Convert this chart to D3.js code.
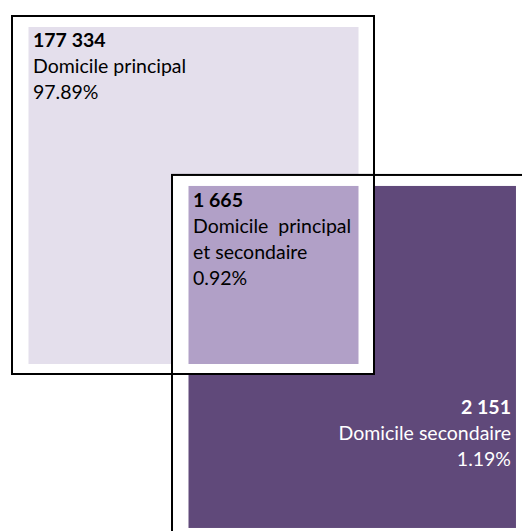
<!DOCTYPE html>
<html>
<head>
<meta charset="utf-8">
<script src="https://cdn.jsdelivr.net/npm/d3@7"></script>
<style>
  html, body { margin: 0; padding: 0; background: #ffffff; }
  svg { display: block; }
  text { font-family: Lato, "Open Sans", sans-serif; font-size: 19.5px; }
</style>
</head>
<body>
<svg id="chart" width="522" height="531"></svg>
<script>
// ---- data ----
const setNames = ["Domicile principal", "Domicile principal et secondaire", "Domicile secondaire"];
const labelLines = [["Domicile principal"], ["Domicile  principal", "et secondaire"], ["Domicile secondaire"]];
const counts = [177334, 1665, 2151];
const shares = [97.89, 0.92, 1.19];
const fills = ["#e4dfec", "#b1a0c7", "#60497a"];
const textColors = ["#000000", "#000000", "#ffffff"];
// square placement in diagram units (each set = unit square, second set shifted)
const setX0 = [0, 0.442, 0.442];
const setX1 = [1, 1, 1.435];
const setY0 = [0, 0.444, 0.444];
const setY1 = [1, 1, 1.458];
const textAnchor = ["start", "start", "end"];

const svg = d3.select("#chart");
const x = d3.scaleLinear().domain([0, 1]).range([12, 374]);
const y = d3.scaleLinear().domain([0, 1]).range([16, 374]);

const fmt = d3.formatLocale({decimal: ".", thousands: " ", grouping: [3], currency: ["", ""]}).format(",d");

const padL = 16.5, padR = 15.5, padT = 11, padB = 10;
const order = [0, 2, 1];

order.forEach(i => {
  const g = svg.append("g");
  const x0 = x(setX0[i]), x1 = x(setX1[i]), y0 = y(setY0[i]), y1 = y(setY1[i]);
  g.append("rect")
    .attr("x", x0).attr("y", y0)
    .attr("width", x1 - x0).attr("height", y1 - y0)
    .attr("fill", "#ffffff").attr("stroke", "#000000").attr("stroke-width", 2);
  g.append("rect")
    .attr("x", x0 + padL).attr("y", y0 + padT)
    .attr("width", x1 - x0 - padL - padR).attr("height", y1 - y0 - padT - padB)
    .attr("fill", fills[i]);
});

const lineH = 26;
const textPos = [
  {tx: x(setX0[0]) + 21, ty: y(setY0[0]) + 31},
  {tx: x(setX0[1]) + 21, ty: y(setY0[1]) + 32},
  {tx: 511, ty: 414}
];
[0, 1, 2].forEach(i => {
  const lines = [fmt(counts[i])].concat(labelLines[i], [shares[i].toFixed(2) + "%"]);
  const t = svg.append("text")
    .attr("x", textPos[i].tx).attr("y", textPos[i].ty)
    .attr("text-anchor", textAnchor[i])
    .attr("fill", textColors[i])
    .style("white-space", "pre");
  lines.forEach((s, k) => {
    t.append("tspan")
      .attr("x", textPos[i].tx)
      .attr("y", textPos[i].ty + k * lineH)
      .attr("font-weight", k === 0 ? "bold" : "normal")
      .text(s);
  });
});
</script>
</body>
</html>
